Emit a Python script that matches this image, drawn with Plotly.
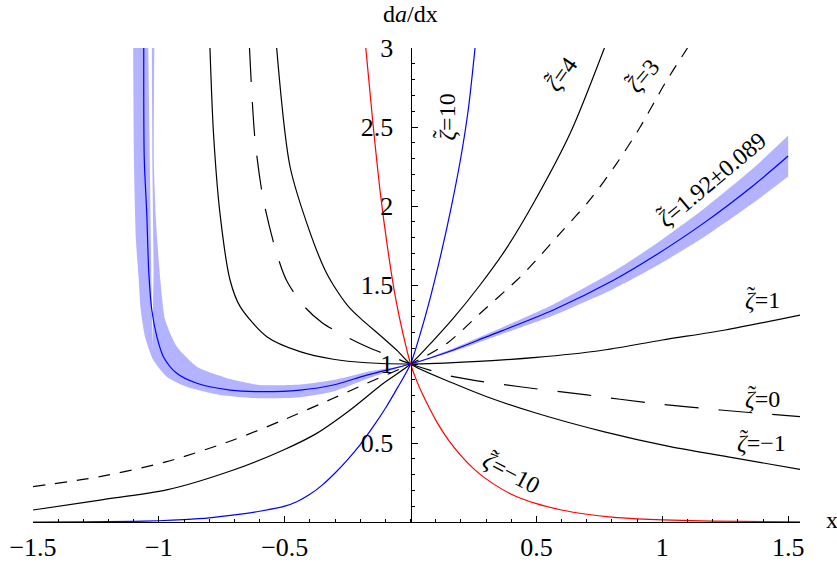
import math
import plotly.graph_objects as go

# --- curves (x, da/dx) ---
z10_x = [-1.5, -1.3, -1.1, -1.0, -0.9, -0.8, -0.7, -0.6, -0.5, -0.45, -0.4, -0.35, -0.3, -0.25, -0.2, -0.15, -0.1, -0.05, 0.0,
         0.04, 0.08, 0.12, 0.16, 0.2, 0.23, 0.256]
z10_y = [0.0, 0.001, 0.004, 0.008, 0.015, 0.026, 0.045, 0.068, 0.1, 0.13, 0.175, 0.235, 0.31, 0.395, 0.49, 0.6, 0.72, 0.855, 1.0,
         1.2, 1.43, 1.69, 1.98, 2.31, 2.62, 3.0]

zm10_x = [-0.178, -0.15, -0.12, -0.09, -0.06, -0.03, 0.0, 0.025, 0.05, 0.075, 0.1, 0.15, 0.2, 0.25, 0.3, 0.4, 0.5, 0.6, 0.7, 0.8,
          0.9, 1.0, 1.2, 1.547]
zm10_y = [3.0, 2.53, 2.08, 1.72, 1.42, 1.19, 1.0, 0.89, 0.8, 0.72, 0.645, 0.52, 0.42, 0.338, 0.273, 0.176, 0.116, 0.076, 0.049, 0.031,
          0.02, 0.013, 0.006, 0.001]

z4_x = [-1.5, -1.234, -0.969, -0.704, -0.505, -0.373, -0.24, -0.108, 0.0, 0.091, 0.17, 0.276, 0.38, 0.488, 0.634, 0.77]
z4_y = [0.076, 0.139, 0.203, 0.329, 0.456, 0.561, 0.709, 0.878, 1.0, 1.15, 1.29, 1.5, 1.73, 2.017, 2.46, 3.0]

z3_x = [-1.5, -1.234, -0.969, -0.704, -0.505, -0.307, -0.174, 0.0, 0.144, 0.276, 0.422, 0.475, 0.594, 0.713, 0.819, 0.912, 1.011, 1.10]
z3_y = [0.224, 0.287, 0.382, 0.519, 0.646, 0.783, 0.878, 1.0, 1.13, 1.32, 1.53, 1.616, 1.827, 2.04, 2.27, 2.50, 2.777, 3.0]

z1_x = [-0.797, -0.783, -0.757, -0.717, -0.677, -0.571, -0.439, -0.307, -0.174, 0.0, 0.25, 0.5, 0.75, 1.0, 1.25, 1.547]
z1_y = [3.0, 2.46, 1.95, 1.53, 1.363, 1.173, 1.078, 1.03, 1.008, 1.0, 1.015, 1.042, 1.084, 1.152, 1.215, 1.31]

z0_x = [-0.64, -0.618, -0.585, -0.532, -0.49, -0.42, -0.35, -0.24, -0.16, -0.08, 0.0, 0.17, 0.435, 0.7, 0.965, 1.23, 1.547]
z0_y = [3.0, 2.42, 2.04, 1.70, 1.52, 1.36, 1.26, 1.16, 1.10, 1.05, 1.0, 0.92, 0.856, 0.804, 0.751, 0.709, 0.667]

zn1_x = [-0.532, -0.479, -0.399, -0.34, -0.307, -0.25, -0.2, -0.108, -0.05, 0.0, 0.17, 0.303, 0.501, 0.766, 1.031, 1.296, 1.547]
zn1_y = [3.0, 2.25, 1.83, 1.595, 1.5, 1.37, 1.29, 1.163, 1.08, 1.0, 0.878, 0.793, 0.688, 0.572, 0.477, 0.403, 0.333]

# fitted zeta = 1.92 and its +-0.089 band
zfit_x = [-1.06, -1.058, -1.048, -1.04, -1.028, -1.008, -0.982, -0.929, -0.849, -0.717, -0.598, -0.439, -0.307, -0.174, 0.0,
          0.17, 0.303, 0.567, 0.806, 0.965, 1.163, 1.362, 1.5]
zfit_y = [3.0, 2.3, 1.95, 1.58, 1.342, 1.173, 1.046, 0.941, 0.878, 0.835, 0.825, 0.835, 0.867, 0.93, 1.0,
          1.089, 1.173, 1.342, 1.53, 1.68, 1.89, 2.13, 2.316]

band_out_x = [-1.102, -1.099, -1.091, -1.081, -1.072, -1.055, -1.022, -0.969, -0.889, -0.757, -0.598, -0.439, -0.307, -0.174, 0.0]
band_out_y = [3.0, 2.29, 1.785, 1.56, 1.342, 1.173, 1.025, 0.92, 0.856, 0.804, 0.783, 0.79, 0.826, 0.905, 1.0]
band_in_x = [-1.018, -1.02, -1.01, -0.994, -0.975, -0.929, -0.849, -0.717, -0.598, -0.439, -0.307, -0.174, 0.0]
band_in_y = [3.0, 2.29, 1.87, 1.53, 1.28, 1.11, 0.983, 0.905, 0.867, 0.87, 0.898, 0.95, 1.0]
band_r_x = [0.17, 0.303, 0.567, 0.806, 0.965, 1.163, 1.362, 1.5]
band_hi_y = [1.10, 1.19, 1.377, 1.585, 1.75, 1.98, 2.24, 2.446]
band_lo_y = [1.079, 1.155, 1.307, 1.475, 1.61, 1.80, 2.02, 2.186]

gap_x = [-1.042, -1.037, -1.031, -1.026, -1.021, -1.026, -1.028]
gap_y = [3.0, 2.29, 1.595, 1.09, 1.595, 2.29, 3.0]

# curve labels: x, y, text after zeta, angle
lab_x = [0.141, 0.601, 0.924, 1.197, 1.397, 1.399, 1.395, 0.40]
lab_y = [2.56, 2.835, 2.82, 2.165, 1.405, 0.778, 0.503, 0.31]
lab_txt = ["=10", "=4", "=3", "=1.92\u00b10.089", "=1", "=0", "=\u22121", "=\u221210"]
lab_ang = [-90, -55, -50, -40, 0, 0, 0, 28]

x_range = [-1.5, 1.547]
y_range = [0, 3]

ticks_x = [-1.5, -1, -0.5, 0.5, 1, 1.5]
ticks_x_text = ["\u22121.5", "\u22121", "\u22120.5", "0.5", "1", "1.5"]
ticks_y = [0.5, 1, 1.5, 2, 2.5, 3]
ticks_y_text = ["0.5", "1", "1.5", "2", "2.5", "3"]

BLUE = "#0000ff"
RED = "#ff0000"
BAND = "#b3b3ff"
FONT = "Liberation Serif"
FS = 24

fig = go.Figure()

# band: outer edge path, then inner edge path filled to it
fig.add_trace(go.Scatter(x=band_out_x + band_r_x, y=band_out_y + band_lo_y, mode="lines",
                         line=dict(width=0, shape="spline", smoothing=0.6), hoverinfo="skip"))
fig.add_trace(go.Scatter(x=band_in_x + band_r_x, y=band_in_y + band_hi_y, mode="lines", fill="tonexty",
                         fillcolor=BAND, line=dict(width=0, shape="spline", smoothing=0.6), hoverinfo="skip"))
fig.add_trace(go.Scatter(x=gap_x, y=gap_y, fill="toself", fillcolor="white",
                         line=dict(width=0), mode="lines", hoverinfo="skip"))


def curve(x, y, color="black", dash="solid"):
    fig.add_trace(go.Scatter(x=x, y=y, mode="lines",
                             line=dict(color=color, width=1.2, dash=dash, shape="spline", smoothing=0.8)))


curve(z4_x, z4_y)
curve(z3_x, z3_y, dash="12px,10px")
curve(z1_x, z1_y)
curve(z0_x, z0_y, dash="34px,20px")
curve(zn1_x, zn1_y)
curve(z10_x, z10_y, BLUE)
curve(zm10_x, zm10_y, RED)
curve(zfit_x, zfit_y, BLUE)

# rough Times widths (em) to put the tilde over the zeta
widths = {"=": 0.564, ".": 0.25, "\u00b1": 0.549, "\u2212": 0.564}
w_zeta = 0.42
for lx, ly, txt, ang in zip(lab_x, lab_y, lab_txt, lab_ang):
    fig.add_annotation(x=lx, y=ly, text="<i>\u03b6</i>" + txt, textangle=ang, showarrow=False,
                       font=dict(family=FONT, size=FS, color="black"))
    w = (w_zeta + sum(widths.get(c, 0.5) for c in txt)) * FS
    u = -w / 2 + w_zeta * FS / 2 + 2
    v = -5
    t = math.radians(ang)
    dx = u * math.cos(t) - v * math.sin(t)
    dy = u * math.sin(t) + v * math.cos(t)
    fig.add_annotation(x=lx, y=ly, text="\u02dc", textangle=ang, showarrow=False,
                       xshift=dx, yshift=-dy, font=dict(family=FONT, size=FS, color="black"))

fig.add_annotation(x=0, y=1, xref="x", yref="paper", yanchor="middle", yshift=34,
                   text="d<i>a</i>/dx", showarrow=False, font=dict(family=FONT, size=FS, color="black"))
fig.add_annotation(x=1, y=0, xref="paper", yref="y", xanchor="center", yanchor="middle", xshift=32, yshift=2,
                   text="x", showarrow=False, font=dict(family=FONT, size=FS, color="black"))

fig.update_layout(
    width=837, height=562,
    margin=dict(l=33, r=37, t=48, b=40),
    paper_bgcolor="white", plot_bgcolor="white",
    showlegend=False,
    font=dict(family=FONT, size=FS, color="black"),
    xaxis=dict(range=x_range, showgrid=False, zeroline=False, automargin=False,
               showline=True, linecolor="black", linewidth=1.2,
               ticks="inside", ticklen=6, tickwidth=1, tickcolor="black",
               tickvals=ticks_x, ticktext=ticks_x_text, ticklabelstandoff=2,
               tickfont=dict(family=FONT, size=26),
               minor=dict(ticks="inside", ticklen=3, dtick=0.1, tick0=0, tickcolor="black", showgrid=False),
               anchor="y"),
    yaxis=dict(range=y_range, showgrid=False, zeroline=False, automargin=False,
               showline=True, linecolor="black", linewidth=1.2,
               ticks="inside", ticklen=6, tickwidth=1, tickcolor="black",
               tickvals=ticks_y, ticktext=ticks_y_text, ticklabelstandoff=12,
               tickfont=dict(family=FONT, size=26),
               minor=dict(ticks="inside", ticklen=3, dtick=0.1, tick0=0, tickcolor="black", showgrid=False),
               anchor="free", side="left",
               position=(0 - x_range[0]) / (x_range[1] - x_range[0])),
)

# drop the page's default 8px body margin so the figure fills the window
fig.write_html("out.html", config={"displayModeBar": False},
               post_script="document.body.style.margin = '0';")
